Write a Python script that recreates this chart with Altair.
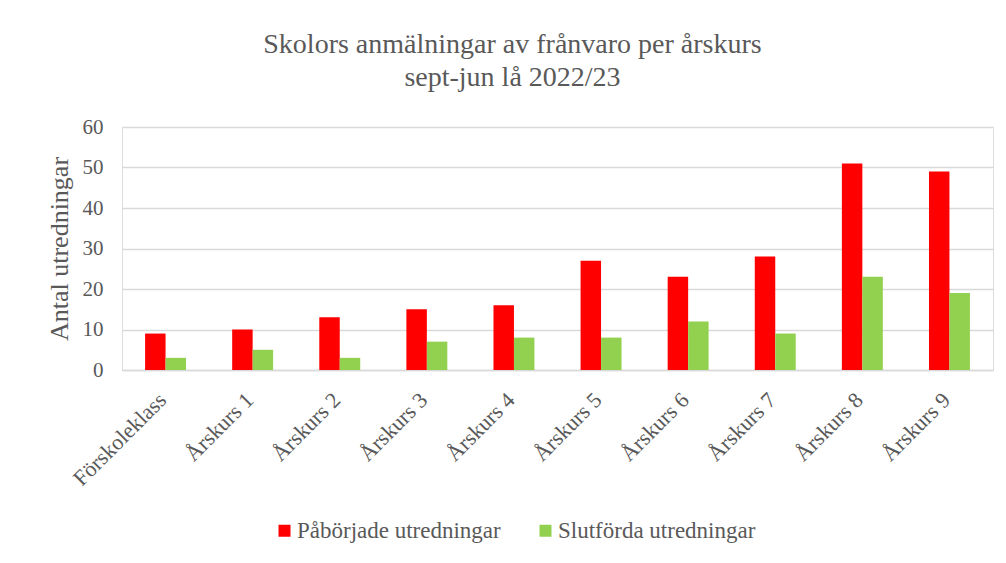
import altair as alt
import pandas as pd

categories = ["Förskoleklass", "Årskurs 1", "Årskurs 2", "Årskurs 3", "Årskurs 4",
              "Årskurs 5", "Årskurs 6", "Årskurs 7", "Årskurs 8", "Årskurs 9"]
paborjade = [9, 10, 13, 15, 16, 27, 23, 28, 51, 49]
slutforda = [3, 5, 3, 7, 8, 8, 12, 9, 23, 19]
series = ["Påbörjade utredningar", "Slutförda utredningar"]
colors = ["#FF0000", "#92D050"]
y_ticks = [0, 10, 20, 30, 40, 50, 60]

rows = []
for c, a, b in zip(categories, paborjade, slutforda):
    rows.append({"kat": c, "serie": series[0], "v": a})
    rows.append({"kat": c, "serie": series[1], "v": b})
df = pd.DataFrame(rows)

FONT = "Liberation Serif"
TXT = "#595959"

chart = alt.Chart(df).mark_bar().encode(
    x=alt.X("kat:N", sort=categories, title=None,
            scale=alt.Scale(paddingInner=0.53, paddingOuter=0.265),
            axis=alt.Axis(labelAngle=-45, labelFontSize=22, labelColor=TXT, labelFont=FONT,
                          ticks=False, domain=True, domainColor="#d9d9d9", domainWidth=1.5,
                          labelPadding=19, labelOffset=-10, labelLimit=0)),
    xOffset=alt.XOffset("serie:N", sort=series, scale=alt.Scale(paddingInner=0, paddingOuter=0)),
    y=alt.Y("v:Q", title="Antal utredningar",
            scale=alt.Scale(domain=[0, 60], nice=False),
            axis=alt.Axis(values=y_ticks, grid=True, gridColor="#d9d9d9", gridWidth=1.5,
                          domain=False, ticks=False, labelFontSize=21, labelColor=TXT,
                          labelFont=FONT, labelPadding=19, titleFontSize=26, titleColor=TXT,
                          titleFont=FONT, titleFontWeight="normal", titlePadding=10)),
    color=alt.Color("serie:N", sort=series,
                    scale=alt.Scale(domain=series, range=colors),
                    legend=alt.Legend(title=None, orient="none", direction="horizontal",
                                      legendX=151, legendY=392, symbolType="square",
                                      symbolSize=144, symbolStrokeWidth=0,
                                      labelFontSize=23, labelColor=TXT, labelFont=FONT,
                                      labelLimit=0, columnPadding=33, labelOffset=1)),
).properties(
    width=871, height=243,
    title=alt.TitleParams(["Skolors anmälningar av frånvaro per årskurs", "sept-jun lå 2022/23"],
                          font=FONT, fontSize=28, fontWeight="normal", color=TXT,
                          anchor="middle", dx=-45, offset=24, lineHeight=33),
    autosize=alt.AutoSizeParams(type="none"),
    padding={"left": 114, "top": 119, "right": 5, "bottom": 185},
).configure_view(stroke=None).configure(background="white")

chart.save("out.html", embed_options={"renderer": "svg", "actions": False})
